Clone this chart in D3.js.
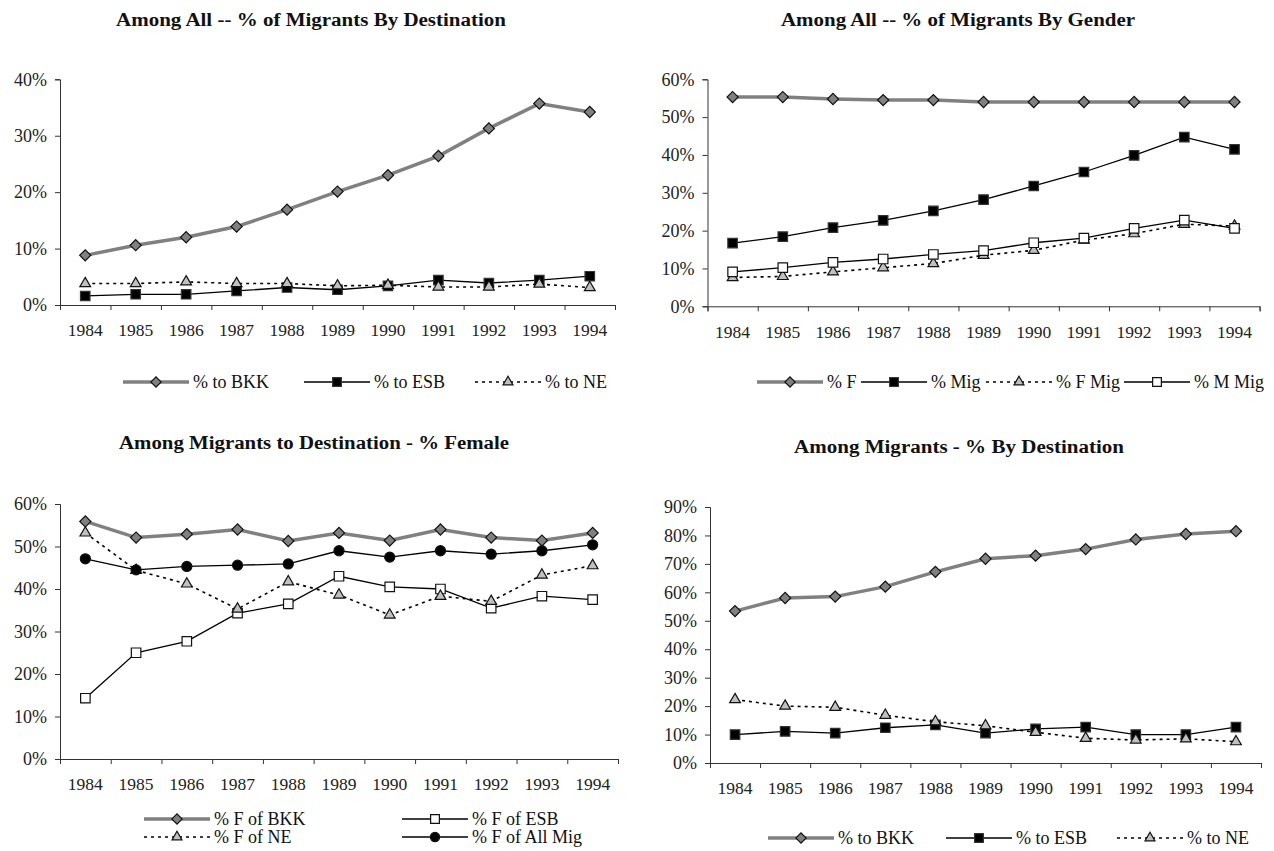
<!DOCTYPE html>
<html>
<head>
<meta charset="utf-8">
<script src="https://cdn.jsdelivr.net/npm/d3@7"></script>
<style>
  body { margin: 0; background: #fff; }
</style>
</head>
<body>
<div id="chart"></div>
<script>
// categories
var years = ["1984", "1985", "1986", "1987", "1988", "1989", "1990", "1991", "1992", "1993", "1994"];

// Among All -- % of Migrants By Destination
var allToBKK = [8.8, 10.6, 12.0, 13.9, 16.9, 20.1, 23.0, 26.4, 31.3, 35.7, 34.2];
var allToESB = [1.6, 1.9, 1.9, 2.5, 3.1, 2.7, 3.4, 4.4, 3.9, 4.4, 5.1];
var allToNE  = [3.8, 3.8, 4.1, 3.8, 3.8, 3.4, 3.5, 3.2, 3.2, 3.7, 3.1];

// Among All -- % of Migrants By Gender
var genderF    = [55.3, 55.3, 54.8, 54.5, 54.5, 54.0, 54.0, 54.0, 54.0, 54.0, 54.0];
var genderMig  = [16.7, 18.4, 20.8, 22.7, 25.2, 28.2, 31.8, 35.5, 39.9, 44.7, 41.5];
var genderFMig = [7.6, 7.9, 9.1, 10.2, 11.3, 13.5, 14.8, 17.5, 19.2, 21.7, 21.2];
var genderMMig = [9.1, 10.2, 11.6, 12.5, 13.7, 14.7, 16.8, 18.0, 20.6, 22.8, 20.6];

// Among Migrants to Destination - % Female
var femBKK    = [55.9, 52.1, 52.9, 54.0, 51.3, 53.2, 51.4, 54.0, 52.1, 51.4, 53.2];
var femESB    = [14.3, 25.0, 27.7, 34.3, 36.5, 43.0, 40.5, 40.0, 35.5, 38.3, 37.5];
var femNE     = [53.2, 44.4, 41.2, 35.3, 41.7, 38.6, 33.9, 38.3, 37.1, 43.3, 45.5];
var femAllMig = [47.1, 44.5, 45.3, 45.6, 45.9, 49.0, 47.5, 49.0, 48.2, 49.0, 50.4];

// Among Migrants - % By Destination
var migToBKK = [53.4, 58.0, 58.5, 62.0, 67.2, 71.8, 72.9, 75.2, 78.6, 80.5, 81.5];
var migToESB = [10.0, 11.1, 10.5, 12.4, 13.4, 10.5, 12.0, 12.6, 10.0, 10.0, 12.6];
var migToNE  = [22.3, 20.0, 19.6, 16.8, 14.5, 13.1, 10.8, 8.7, 8.1, 8.5, 7.5];

var W = 1274, H = 851;
var FONT = "'Liberation Serif', 'Times New Roman', 'DejaVu Serif', serif";

var svg = d3.select("#chart").append("svg")
  .attr("width", W).attr("height", H);

// line + marker styles (Excel look)
var styles = {
  grayDiamond:  { stroke: "#808080", width: 3.5, dash: null,  marker: "diamond",  fill: "#808080" },
  blackSquare:  { stroke: "#000",    width: 1.3, dash: null,  marker: "square",   fill: "#000" },
  dotTriangle:  { stroke: "#000",    width: 1.6, dash: "3,4", marker: "triangle", fill: "#c0c0c0" },
  whiteSquare:  { stroke: "#000",    width: 1.3, dash: null,  marker: "square",   fill: "#fff" },
  blackCircle:  { stroke: "#000",    width: 1.3, dash: null,  marker: "circle",   fill: "#000" }
};

function markerPath(type, scale) {
  scale = scale || 1;
  if (type == "diamond") return d3.symbol().type(d3.symbolSquare).size(62 * scale)();
  if (type == "square") return d3.symbol().type(d3.symbolSquare).size(90 * scale)();
  if (type == "triangle") return d3.symbol().type(d3.symbolTriangle).size(50 * scale)();
  return d3.symbol().type(d3.symbolCircle).size(80 * scale)();
}

function drawMarker(g, type, st, x, y, scale) {
  g.append("path")
    .attr("d", markerPath(type, scale))
    .attr("transform", "translate(" + x + "," + y + ")" + (type == "diamond" ? " rotate(45)" : ""))
    .attr("fill", st.fill)
    .attr("stroke", type == "square" && st.fill == "#000" ? "#333" : "#111")
    .attr("stroke-width", 1.2);
}

function drawPanel(p) {
  var g = svg.append("g");

  var x = d3.scaleBand().domain(years).range([p.x0, p.x1]);
  var xTicks = d3.scaleLinear().domain([0, years.length]).range([p.x0, p.x1]);
  var y = d3.scaleLinear().domain([0, p.yMax]).range([p.y0, p.y1]);

  // title
  g.append("text")
    .attr("x", p.titleX).attr("y", p.titleY)
    .attr("text-anchor", "middle")
    .attr("textLength", p.titleW)
    .attr("lengthAdjust", "spacingAndGlyphs")
    .style("font-family", FONT)
    .style("font-size", "18px")
    .style("font-weight", "bold")
    .attr("fill", "#111")
    .text(p.title);

  // y axis
  var yAxis = g.append("g")
    .attr("transform", "translate(" + p.x0 + ",0)")
    .call(d3.axisLeft(y).tickValues(d3.range(0, p.yMax + 1, 10))
      .tickFormat(function(d) { return d + "%"; })
      .tickSize(5).tickPadding(8));
  yAxis.selectAll("text")
    .style("font-family", FONT).style("font-size", "18px").attr("fill", "#222");

  // x axis: ticks on category borders, labels in the middle
  g.append("g")
    .attr("transform", "translate(0," + p.y0 + ")")
    .call(d3.axisBottom(xTicks).ticks(years.length).tickSize(5).tickFormat(""));
  var xLab = g.append("g")
    .attr("transform", "translate(0," + p.y0 + ")")
    .call(d3.axisBottom(x).tickSize(0).tickPadding(19));
  xLab.select(".domain").remove();
  xLab.selectAll("text")
    .style("font-family", FONT).style("font-size", "17.5px").attr("fill", "#222");
  g.selectAll(".domain, .tick line").attr("stroke", "#333");

  // series
  var line = d3.line()
    .x(function(d, i) { return x(years[i]) + x.bandwidth() / 2; })
    .y(function(d) { return y(d); });

  p.series.forEach(function(s) {
    var st = styles[s.style];
    g.append("path")
      .datum(s.values)
      .attr("d", line)
      .attr("fill", "none")
      .attr("stroke", st.stroke)
      .attr("stroke-width", st.width)
      .attr("stroke-dasharray", st.dash);
    s.values.forEach(function(v, i) {
      drawMarker(g, st.marker, st, x(years[i]) + x.bandwidth() / 2, y(v), 1);
    });
  });

  // legend
  p.series.forEach(function(s, i) {
    var st = styles[s.style];
    var lx = p.legend[i][0], ly = p.legend[i][1];
    g.append("line")
      .attr("x1", lx).attr("x2", lx + 66)
      .attr("y1", ly).attr("y2", ly)
      .attr("stroke", st.stroke)
      .attr("stroke-width", st.width)
      .attr("stroke-dasharray", st.dash);
    drawMarker(g, st.marker, st, lx + 33, ly, 0.85);
    g.append("text")
      .attr("x", lx + 70).attr("y", ly + 6)
      .style("font-family", FONT)
      .style("font-size", "18px")
      .attr("fill", "#111")
      .text(s.name);
  });
}

drawPanel({
  title: "Among All -- %  of Migrants By Destination", titleX: 311, titleY: 26, titleW: 390,
  x0: 60, x1: 615, y0: 305, y1: 79.3, yMax: 40,
  series: [
    { name: "% to BKK", values: allToBKK, style: "grayDiamond" },
    { name: "% to ESB", values: allToESB, style: "blackSquare" },
    { name: "% to NE", values: allToNE, style: "dotTriangle" }
  ],
  legend: [[123, 382], [304, 382], [475, 382]]
});

drawPanel({
  title: "Among All -- %  of Migrants By Gender", titleX: 958, titleY: 26, titleW: 354,
  x0: 707.5, x1: 1259.6, y0: 306.3, y1: 79.3, yMax: 60,
  series: [
    { name: "% F", values: genderF, style: "grayDiamond" },
    { name: "% Mig", values: genderMig, style: "blackSquare" },
    { name: "% F Mig", values: genderFMig, style: "dotTriangle" },
    { name: "% M Mig", values: genderMMig, style: "whiteSquare" }
  ],
  legend: [[757, 382], [861, 382], [986, 382], [1124, 382]]
});

drawPanel({
  title: "Among Migrants to Destination - %  Female", titleX: 314, titleY: 449, titleW: 390,
  x0: 60, x1: 618, y0: 759, y1: 504, yMax: 60,
  series: [
    { name: "% F of BKK", values: femBKK, style: "grayDiamond" },
    { name: "% F of ESB", values: femESB, style: "whiteSquare" },
    { name: "% F of NE", values: femNE, style: "dotTriangle" },
    { name: "% F of All Mig", values: femAllMig, style: "blackCircle" }
  ],
  legend: [[144, 819], [402, 819], [144, 837], [402, 837]]
});

drawPanel({
  title: "Among Migrants - %  By Destination", titleX: 959, titleY: 453, titleW: 330,
  x0: 710, x1: 1261, y0: 763, y1: 507, yMax: 90,
  series: [
    { name: "% to BKK", values: migToBKK, style: "grayDiamond" },
    { name: "% to ESB", values: migToESB, style: "blackSquare" },
    { name: "% to NE", values: migToNE, style: "dotTriangle" }
  ],
  legend: [[768, 838], [946, 838], [1117, 838]]
});
</script>
</body>
</html>
